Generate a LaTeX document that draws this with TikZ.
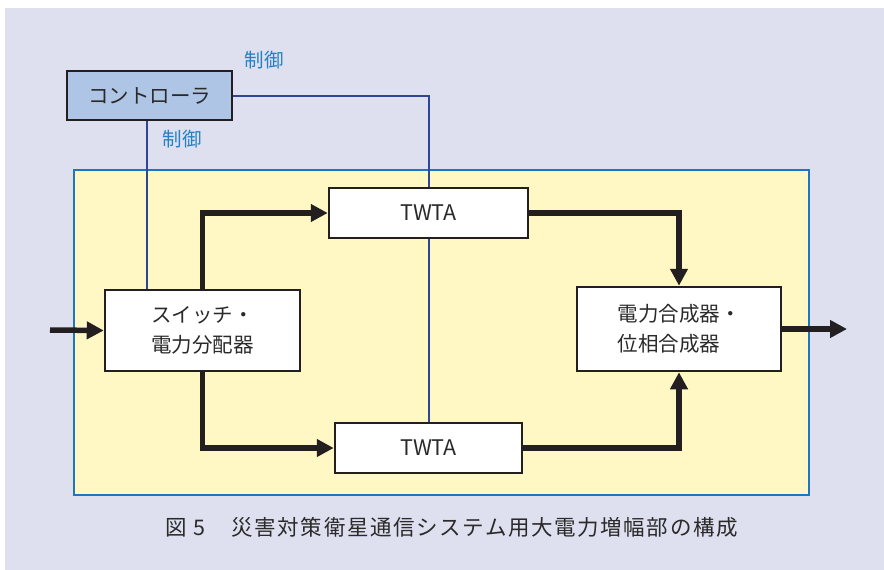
\documentclass[tikz,border=0pt]{standalone}
\usepackage{fontspec}
\setmainfont{Noto Sans CJK JP}
\usetikzlibrary{arrows.meta}
\definecolor{bgc}{HTML}{DEE0EF}
\definecolor{yel}{HTML}{FFF8C5}
\definecolor{yelb}{HTML}{1A78C2}
\definecolor{ctlf}{HTML}{AFC5E5}
\definecolor{ctll}{HTML}{2E4795}
\definecolor{lblc}{HTML}{2581C4}
\definecolor{ink}{HTML}{231F20}
\definecolor{txt}{HTML}{2A2A2A}
\tikzset{
  blk/.style={draw=ink, line width=2.5pt, fill=white, inner sep=0pt, text=txt, font=\fontsize{20.5}{30}\selectfont, align=center},
  ctlline/.style={draw=ctll, line width=2pt},
  sig/.style={draw=ink, line width=5.5pt, -{Triangle[length=17pt,width=17pt]}},
  lbl/.style={text=lblc, font=\fontsize{19.5}{22}\selectfont, inner sep=0pt}
}
\begin{document}
\begin{tikzpicture}[x=1pt,y=-1pt]
\useasboundingbox (0,0) rectangle (884,570);
\fill[bgc] (5,8) rectangle (884,570);
\draw[fill=yel, draw=yelb, line width=2pt] (74,170) rectangle (809,495);
% boxes
\node[blk, fill=ctlf, minimum width=165pt, minimum height=49pt] (ctl) at (149.5,95.5) {コントローラ};
\node[blk, font=\fontsize{21.5}{26}\selectfont, minimum width=199pt, minimum height=50pt] (t1) at (428.5,213) {TWTA};
\node[blk, font=\fontsize{21.5}{26}\selectfont, minimum width=187pt, minimum height=50pt] (t2) at (428.5,448) {TWTA};
\node[blk, minimum width=195pt, minimum height=81pt] (sw) at (202.5,330.5) {スイッチ・\\電力分配器};
\node[blk, align=left, minimum width=204pt, minimum height=84pt] (cmb) at (679,329) {電力合成器・\\位相合成器};
\coordinate (in) at (50,330);
\coordinate (out) at (847,329);
% control lines
\draw[ctlline] (ctl.east |- 0,96) -| (t1.north);
\draw[ctlline] (t1.south) -- (t2.north);
\draw[ctlline] (147,0 |- ctl.south) -- (147,0 |- sw.north);
\node[lbl] (l1) at (264,60) {制御};
\node[lbl] (l2) at (182,139) {制御};
% signal arrows
\draw[sig] (in) -- (sw.west);
\draw[sig] (sw.north) |- (t1.west);
\draw[sig] (sw.south) |- (t2.west);
\draw[sig] (t1.east) -| (cmb.north);
\draw[sig] (t2.east) -| (cmb.south);
\draw[sig] (cmb.east) -- (out);
% caption
\node[text=txt, font=\fontsize{21.5}{24}\selectfont\addfontfeature{LetterSpace=7.5}, inner sep=0pt, anchor=west] (cap) at (165,527) {図\hspace{7pt}5\hspace{26pt}災害対策衛星通信システム用大電力増幅部の構成};
\end{tikzpicture}
\end{document}
